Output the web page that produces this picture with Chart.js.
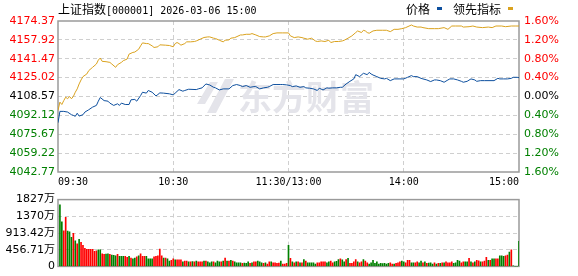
<!DOCTYPE html>
<html>
<head>
<meta charset="utf-8">
<script src="https://cdn.jsdelivr.net/npm/chart.js@4.4.1/dist/chart.umd.min.js"></script>
<style>
  body { margin: 0; background: #fff; }
  #wrap { position: relative; width: 578px; height: 276px; overflow: hidden; color: #000; }
  canvas { position: absolute; left: 0; display: block; }
  #priceChart { top: 0; }
  #volChart { top: 190px; }
  .txt { position: absolute; top: 1px; line-height: 16px; white-space: nowrap; }
  .cjk { font-family: 'Noto Sans CJK SC', sans-serif; font-size: 12px; }
  .mono { font-family: 'DejaVu Sans Mono', monospace; font-size: 10px; }
  .sw { position: absolute; top: 7px; width: 5px; height: 3px; }
</style>
</head>
<body>
<div id="wrap">
  <canvas id="priceChart" width="578" height="190"></canvas>
  <canvas id="volChart" width="578" height="86"></canvas>
  <div class="txt" style="left:58px"><span class="cjk">上证指数</span><span class="mono">[000001] 2026-03-06 15:00</span></div>
  <div class="txt cjk" style="left:406px">价格</div>
  <div class="sw" style="left:437px;background:#0d4f9e"></div>
  <div class="txt cjk" style="left:453px">领先指标</div>
  <div class="sw" style="left:508px;background:#daa21e"></div>
</div>
<script>
// previous close, used as the 0% line
const prevClose = 4108.57;

// minute offsets from 09:30 (0..240, lunch break removed)
const priceMin = [0,1,3,5,7,8,9,10,11,13,
  14,16,18,20,21,22,24,26,27,29,
  31,32,33,35,37,38,40,41,43,44,
  46,47,49,51,52,53,55,58,60,61,
  63,65,66,68,72,73,75,77,79,81,
  82,84,86,88,89,91,93,95,96,98,
  100,102,103,105,107,109,110,112,114,116,
  117,119,121,122,124,126,128,129,131,133,
  135,136,138,140,141,143,145,147,148,150,
  152,154,155,157,159,161,162,163,164,166,
  168,170,171,173,175,177,178,180,182,184,
  185,187,189,190,192,194,196,197,199,201,
  203,204,206,208,210,211,213,215,217,218,
  220,222,227,229,230,232,234,236,237,239,
  240];
const priceVal = [4085.7,4095.6,4095.6,4095.0,4092.7,4092.1,4091.3,4094.0,4091.5,4092.7,
  4095.0,4097.0,4099.3,4100.8,4104.5,4107.7,4105.0,4104.5,4102.8,4100.8,
  4102.2,4100.8,4102.8,4101.6,4101.6,4105.7,4106.0,4104.5,4109.4,4112.3,
  4111.5,4113.8,4112.3,4109.1,4110.3,4111.7,4111.5,4110.9,4110.0,4111.5,
  4114.6,4113.2,4113.8,4114.9,4114.6,4115.2,4116.1,4119.5,4118.6,4116.6,
  4116.1,4114.3,4115.2,4115.2,4115.2,4118.1,4119.0,4118.1,4117.2,4118.1,
  4116.6,4117.2,4117.2,4115.2,4116.1,4116.6,4117.2,4119.0,4119.0,4119.0,
  4119.0,4118.7,4118.1,4117.2,4117.8,4116.6,4117.2,4116.1,4115.8,4115.2,
  4113.8,4115.8,4114.3,4116.1,4115.8,4116.1,4116.1,4116.6,4116.6,4119.5,
  4121.8,4123.9,4127.6,4125.9,4128.8,4127.6,4129.6,4128.2,4127.3,4125.9,
  4124.4,4123.9,4124.4,4122.4,4123.9,4123.9,4123.9,4123.9,4125.3,4126.8,
  4125.9,4125.9,4124.4,4123.9,4123.0,4121.6,4123.0,4123.0,4122.4,4121.0,
  4123.0,4123.9,4123.9,4123.0,4121.8,4121.0,4121.8,4123.9,4123.0,4121.8,
  4122.4,4122.4,4122.4,4124.4,4123.9,4123.9,4123.9,4124.4,4125.3,4125.3,
  4125.0];

const leadMin = [0,1,2,3,4,5,6,7,8,9,
  10,11,12,13,15,16,18,20,21,22,
  23,25,27,28,30,31,33,34,36,37,
  39,40,42,43,44,46,47,49,50,52,
  53,56,58,60,61,62,63,64,66,67,
  69,71,72,74,76,78,79,81,82,84,
  86,87,89,90,92,95,96,98,100,101,
  103,105,107,108,110,112,114,117,120,121,
  123,125,127,128,130,132,134,135,137,139,
  141,142,144,146,148,149,151,153,155,156,
  158,159,160,161,162,164,166,169,171,173,
  175,177,179,181,184,185,187,189,190,193,
  196,198,201,203,205,207,210,211,214,216,
  218,221,224,226,228,231,233,236,238,240];
const leadVal = [4096.5,4103.7,4101.6,4105.0,4108.0,4106.6,4108.6,4106.6,4108.6,4112.3,
  4115.2,4119.5,4123.0,4125.9,4128.2,4131.1,4134.0,4136.9,4140.3,4142.1,
  4139.2,4138.9,4138.3,4136.9,4134.0,4136.3,4138.3,4139.8,4141.2,4145.5,
  4147.0,4147.3,4149.8,4152.7,4155.3,4154.7,4154.7,4152.7,4151.3,4151.9,
  4153.6,4153.3,4153.0,4151.9,4154.7,4155.6,4154.7,4153.3,4154.7,4156.2,
  4156.2,4156.5,4157.0,4158.5,4160.0,4160.5,4160.5,4159.4,4159.1,4157.6,
  4156.2,4157.6,4157.9,4159.4,4159.9,4162.2,4162.2,4162.8,4162.8,4163.4,
  4162.2,4160.8,4160.5,4160.5,4161.4,4163.4,4164.0,4164.0,4164.0,4161.4,
  4159.9,4160.5,4159.9,4159.4,4158.5,4159.4,4157.0,4156.5,4157.0,4156.5,
  4157.6,4155.6,4156.5,4156.5,4157.0,4157.6,4159.4,4161.4,4164.3,4165.7,
  4164.3,4166.3,4165.7,4164.3,4163.7,4165.7,4166.3,4166.3,4166.3,4165.1,
  4167.1,4167.1,4167.7,4168.6,4170.9,4170.0,4169.1,4169.1,4168.6,4167.7,
  4167.7,4167.7,4168.6,4167.1,4170.0,4170.0,4170.0,4169.1,4169.4,4170.0,
  4169.1,4168.6,4169.1,4168.6,4170.0,4170.0,4169.4,4170.0,4170.0,4170.0];

// volume per minute (万), minutes 1..240
const volVal = [1687,1218,971,1341,963,946,798,905,700,617,
  741,658,576,494,469,469,469,469,412,428,
  453,453,346,329,340,346,329,313,305,288,
  329,272,272,272,272,247,272,230,206,230,
  263,288,346,272,272,272,206,206,206,263,
  272,290,477,288,230,230,206,148,165,206,
  181,181,181,181,123,148,148,123,123,130,
  123,148,123,123,123,148,148,123,99,123,
  123,99,148,123,123,148,230,148,148,165,
  148,123,99,99,99,82,90,82,123,82,
  99,123,123,148,123,99,82,99,66,123,
  123,99,99,82,90,148,66,66,82,576,
  222,123,99,123,123,99,99,189,148,99,
  99,99,99,66,99,99,123,123,123,99,
  123,148,99,123,140,189,206,181,123,189,
  222,82,82,123,189,123,99,123,189,148,
  99,66,99,165,82,123,66,82,75,82,
  66,82,99,66,66,82,99,123,148,123,
  99,165,165,99,99,99,123,99,148,99,
  123,82,90,99,66,99,66,82,82,99,
  99,123,99,99,123,82,99,165,148,99,
  123,123,123,222,123,99,123,165,150,123,
  123,148,247,165,165,206,206,206,206,288,
  288,272,288,313,395,453,16,0,0,683];
// R = up minute, G = down minute
const volSide = 'GGRRGGGRGR' + 'GRRRRRRRRR' + 'GGRRGGRGGG' + 'RGGGRRGRGG' +
  'RGRRRGGGGR' + 'RRRRGRGGRR' + 'GRRRGRRGRG' + 'RGRRRGRGGG' +
  'RGGGRGRGRG' + 'RGGGGRGGGR' + 'GRRGGGRGRR' + 'GRRRRGRRRG' +
  'RGRGRGRGRG' + 'GGGGRRRRRG' + 'GRRGGGRGGR' + 'GRRRRGRRGR' +
  'RGGGGGGGGG' + 'GGRRGRRRGG' + 'RRRGGRRGGR' + 'GRGGGRGRGR' +
  'GRRRRGGGGR' + 'RGGRGRGRRG' + 'RRRGRGGRRG' + 'GGRRGRGGGG';

// axis ticks
const priceTicks = [4042.77,4059.22,4075.67,4092.12,4108.57,4125.02,4141.47,4157.92,4174.37];
const pctTicks = [-1.6,-1.2,-0.8,-0.4,0,0.4,0.8,1.2,1.6];
const timeTicks = [0,60,120,180,240];
const timeLabels = ['09:30','10:30','11:30/13:00','14:00','15:00'];
const volTicks = [0,456.71,913.42,1370,1827];
const volLabels = ['0','456.71万','913.42万','1370万','1827万'];

const RED = '#ff0000';
const GREEN = '#008000';
const GRID = '#cfcfcf';
const tickFont = { family: "'DejaVu Sans', 'Noto Sans CJK SC', sans-serif", size: 11 };
const timeFont = { family: "'DejaVu Sans Mono', monospace", size: 10 };

const signColor = (d) => d > 0.001 ? RED : (d < -0.001 ? GREEN : '#000');
const innerGrid = (ctx) => (ctx.index === 0 || ctx.index === ctx.scale.ticks.length - 1) ? 'rgba(0,0,0,0)' : GRID;

// gray frame round the plot area
const frame = {
  id: 'frame',
  beforeDatasetsDraw(chart) {
    const { ctx, chartArea: a } = chart;
    ctx.save();
    ctx.strokeStyle = '#9a9a9a';
    ctx.lineWidth = 1.5;
    ctx.strokeRect(a.left, a.top, a.right - a.left, a.bottom - a.top);
    ctx.restore();
  }
};

// faint site watermark behind the lines
const watermark = {
  id: 'watermark',
  beforeDatasetsDraw(chart) {
    const { ctx } = chart;
    ctx.save();
    ctx.fillStyle = '#e4e4ea';
    ctx.beginPath();
    ctx.moveTo(207, 113); ctx.lineTo(225, 79); ctx.lineTo(234, 79); ctx.lineTo(216, 113); ctx.closePath();
    ctx.moveTo(197, 104); ctx.lineTo(210, 82); ctx.lineTo(218, 82); ctx.lineTo(205, 104); ctx.closePath();
    ctx.fill();
    ctx.font = "bold 34px 'Noto Sans CJK SC', sans-serif";
    ctx.textBaseline = 'middle';
    ctx.fillText('东方财富', 238, 97);
    ctx.restore();
  }
};

const timeAxis = (showTicks) => ({
  type: 'linear',
  min: 0,
  max: 240,
  offset: false,
  afterBuildTicks: (axis) => { axis.ticks = timeTicks.map(v => ({ value: v })); },
  ticks: {
    display: showTicks,
    callback: (v, i) => timeLabels[i],
    align: 'inner',
    maxRotation: 0,
    autoSkip: false,
    padding: 4,
    color: '#000',
    font: timeFont
  },
  grid: { color: innerGrid, drawTicks: false, offset: false },
  border: { display: false, dash: [4, 3] },
  afterFit: (axis) => { axis.height = showTicks ? 18 : 0; }
});

new Chart(document.getElementById('priceChart'), {
  type: 'line',
  data: {
    datasets: [{
      label: '领先指标',
      data: leadMin.map((m, i) => ({ x: m, y: leadVal[i] })),
      borderColor: '#daa21e',
      borderWidth: 1,
      pointRadius: 0,
      yAxisID: 'y'
    }, {
      label: '价格',
      data: priceMin.map((m, i) => ({ x: m, y: priceVal[i] })),
      borderColor: '#0d4f9e',
      borderWidth: 1,
      pointRadius: 0,
      yAxisID: 'y'
    }]
  },
  options: {
    responsive: false,
    animation: false,
    layout: { padding: { top: 21 } },
    plugins: { legend: { display: false }, tooltip: { enabled: false } },
    scales: {
      x: timeAxis(true),
      y: {
        position: 'left',
        min: priceTicks[0],
        max: priceTicks[priceTicks.length - 1],
        afterBuildTicks: (axis) => { axis.ticks = priceTicks.map(v => ({ value: v })); },
        ticks: {
          callback: (v) => v.toFixed(2),
          color: (ctx) => signColor(ctx.tick.value - prevClose),
          font: tickFont,
          padding: 3
        },
        grid: { color: innerGrid, drawTicks: false },
        border: { display: false, dash: [4, 3] },
        afterFit: (axis) => { axis.width = 58; }
      },
      pct: {
        position: 'right',
        min: pctTicks[0],
        max: pctTicks[pctTicks.length - 1],
        afterBuildTicks: (axis) => { axis.ticks = pctTicks.map(v => ({ value: v })); },
        ticks: {
          callback: (v) => Math.abs(v).toFixed(2) + '%',
          color: (ctx) => signColor(ctx.tick.value),
          font: tickFont,
          padding: 5
        },
        grid: { display: false, drawTicks: false },
        border: { display: false },
        afterFit: (axis) => { axis.width = 59; }
      }
    }
  },
  plugins: [watermark, frame]
});

new Chart(document.getElementById('volChart'), {
  type: 'bar',
  data: {
    datasets: [{
      label: '成交量',
      data: volVal.map((v, i) => ({ x: i + 1, y: v })),
      backgroundColor: volVal.map((v, i) => volSide[i] === 'R' ? RED : GREEN),
      barThickness: 1
    }]
  },
  options: {
    responsive: false,
    animation: false,
    layout: { padding: { top: 6, bottom: 6, right: 59 } },
    plugins: { legend: { display: false }, tooltip: { enabled: false } },
    scales: {
      x: timeAxis(false),
      y: {
        min: 0,
        max: volTicks[volTicks.length - 1],
        afterBuildTicks: (axis) => { axis.ticks = volTicks.map(v => ({ value: v })); },
        ticks: {
          callback: (v, i) => volLabels[i],
          color: '#000',
          font: tickFont,
          padding: 3
        },
        grid: { color: innerGrid, drawTicks: false },
        border: { display: false, dash: [4, 3] },
        afterFit: (axis) => { axis.width = 58; }
      }
    }
  },
  plugins: [frame]
});
</script>
</body>
</html>
